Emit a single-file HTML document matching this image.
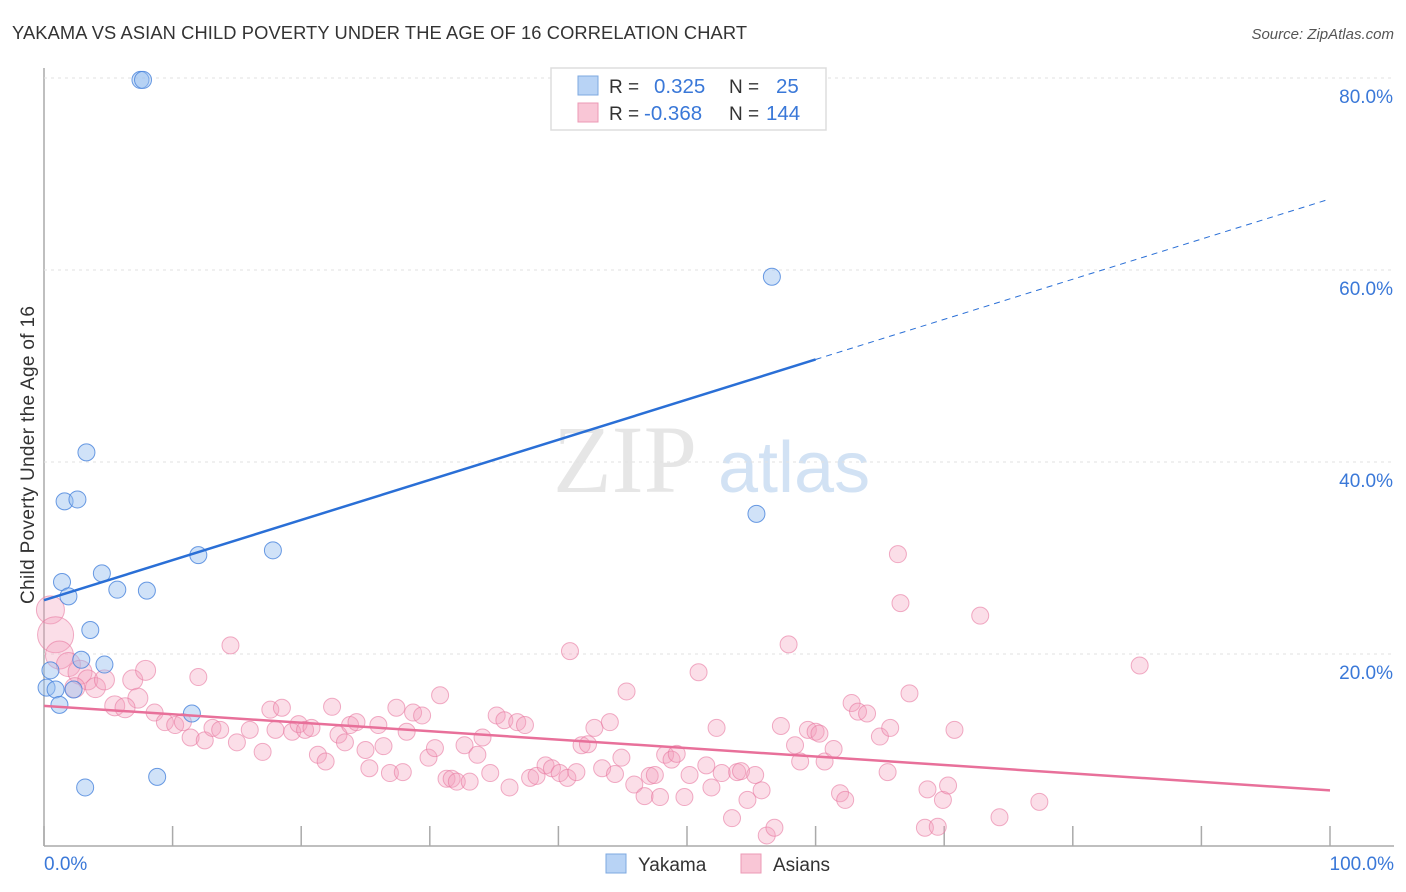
<!DOCTYPE html>
<html><head><meta charset="utf-8"><style>
body{margin:0;background:#fff;width:1406px;height:892px;overflow:hidden;font-family:"Liberation Sans",sans-serif}
svg{position:absolute;left:0;top:0}
</style></head><body>
<svg id="chart" width="1406" height="892">
<text x="12" y="39" font-size="18.3" fill="#333" textLength="735">YAKAMA VS ASIAN CHILD POVERTY UNDER THE AGE OF 16 CORRELATION CHART</text>
<text x="1394" y="39" font-size="15" fill="#555" font-style="italic" text-anchor="end">Source: ZipAtlas.com</text>
<text transform="translate(34,455) rotate(-90)" font-size="19" fill="#333" text-anchor="middle" textLength="298">Child Poverty Under the Age of 16</text>
<g opacity="0.45">
<text x="553" y="492" font-family="Liberation Serif,serif" font-size="96" fill="#c8c8c8">ZIP</text>
<text x="718" y="492" font-size="72" fill="#9cc0e8">atlas</text>
</g>
<g id="grid"></g><g id="marks"></g><g id="lines"></g>
<g>
<rect x="551" y="68" width="275" height="62" fill="#fff" stroke="#ddd" stroke-width="1.5"/>
<rect x="578" y="76" width="20" height="19" fill="#b8d3f5" stroke="#7ea8e0"/>
<rect x="578" y="103" width="20" height="19" fill="#f9c6d6" stroke="#ec9ab5"/>
<text x="609" y="93" font-size="19" fill="#333">R =</text>
<text x="654" y="93" font-size="20.5" fill="#3a78d8">0.325</text>
<text x="729" y="93" font-size="19" fill="#333">N =</text>
<text x="776" y="93" font-size="20.5" fill="#3a78d8">25</text>
<text x="609" y="120" font-size="19" fill="#333">R =</text>
<text x="644" y="120" font-size="20.5" fill="#3a78d8">-0.368</text>
<text x="729" y="120" font-size="19" fill="#333">N =</text>
<text x="766" y="120" font-size="20.5" fill="#3a78d8">144</text>
</g>
<g>
<rect x="606" y="854" width="20" height="19" fill="#b8d3f5" stroke="#7ea8e0"/>
<text x="638" y="871" font-size="19" fill="#333">Yakama</text>
<rect x="741" y="854" width="20" height="19" fill="#f9c6d6" stroke="#ec9ab5"/>
<text x="773" y="871" font-size="19" fill="#333">Asians</text>
</g>
</svg>
<script>
const yTicks=[20,40,60,80];
const yTickLabels=["20.0%","40.0%","60.0%","80.0%"];
const xTicks=[0,10,20,30,40,50,60,70,80,90,100];
const xEndLabels=["0.0%","100.0%"];
const blueX=[7.5,7.7,56.6,3.3,1.6,2.6,55.4,17.8,12.0,1.4,4.5,5.7,8.0,1.9,3.6,2.9,4.7,0.5,0.2,0.9,2.3,1.2,11.5,8.8,3.2];
const blueY=[79.8,79.8,59.3,41.0,35.9,36.1,34.6,30.8,30.3,27.5,28.4,26.7,26.6,26.0,22.5,19.4,18.9,18.3,16.5,16.3,16.3,14.7,13.8,7.2,6.1];
const pinkX=[0.5,0.9,1.2,1.9,2.8,3.4,4.0,4.7,2.4,6.9,7.9,7.3,5.5,6.3,8.6,9.4,10.2,10.8,11.4,12.5,13.1,13.7,14.5,12.0,15.0,16.0,17.0,17.6,18.0,18.5,19.3,19.8,20.3,20.8,21.3,21.9,22.4,22.9,23.4,23.8,24.3,25.0,25.3,26.0,26.4,26.9,27.4,27.9,28.2,28.7,29.4,29.9,30.4,30.8,31.3,31.7,32.1,32.7,33.1,33.7,34.1,34.7,35.2,35.8,36.2,36.8,37.4,37.8,38.3,39.0,39.5,40.1,40.7,40.9,41.4,41.8,42.3,42.8,43.4,44.0,44.4,44.9,45.3,45.9,46.7,47.1,47.5,47.9,48.3,48.8,49.2,49.8,50.2,50.9,51.5,51.9,52.3,52.7,53.5,53.9,54.2,54.7,55.3,55.8,56.2,56.8,57.3,57.9,58.4,58.8,59.4,60.0,60.3,60.7,61.4,61.9,62.3,62.8,63.3,64.0,65.0,65.6,65.8,66.4,66.6,67.3,68.7,68.5,69.5,69.9,70.3,70.8,72.8,74.3,77.4,85.2];
const pinkY=[24.6,22.0,19.9,18.9,18.1,17.3,16.5,17.3,16.5,17.3,18.3,15.4,14.6,14.4,13.9,12.9,12.6,12.9,11.3,11.0,12.3,12.1,20.9,17.6,10.8,12.1,9.8,14.2,12.1,14.4,11.9,12.7,12.1,12.3,9.5,8.8,14.5,11.6,10.8,12.6,12.9,10.0,8.1,12.6,10.4,7.6,14.4,7.7,11.9,13.9,13.6,9.2,10.2,15.7,7.0,7.0,6.7,10.5,6.7,9.5,11.3,7.6,13.6,13.1,6.1,12.9,12.6,7.1,7.3,8.4,8.1,7.6,7.1,20.3,7.7,10.5,10.6,12.3,8.1,12.9,7.5,9.2,16.1,6.4,5.2,7.3,7.4,5.1,9.5,9.0,9.6,5.1,7.4,18.1,8.4,6.1,12.3,7.6,2.9,7.7,7.8,4.8,7.4,5.8,1.1,1.9,12.5,21.0,10.5,8.8,12.1,11.9,11.7,8.8,10.1,5.5,4.8,14.9,14.0,13.8,11.4,7.7,12.3,30.4,25.3,15.9,5.9,1.9,2.0,4.8,6.3,12.1,24.0,3.0,4.6,18.8];
const pinkBig=[14,18,14,12,12,10,10,10,10,10,10,10,10,10];
const blueFit=[25.6,67.4];
const pinkFit=[14.6,5.8];
const blueSolidEnd=60;

const NS="http://www.w3.org/2000/svg";
const xS=v=>44+v*12.86;
const yS=v=>846-v*9.6;
function mk(t,a,p){const e=document.createElementNS(NS,t);for(const k in a)e.setAttribute(k,a[k]);p.appendChild(e);return e;}
const grid=document.getElementById('grid'),marks=document.getElementById('marks'),lines=document.getElementById('lines');
let ax=mk('line',{x1:44,y1:68,x2:44,y2:846,stroke:'#aaa','stroke-width':1.5},grid);


let bx=mk('line',{x1:44,y1:846,x2:1394,y2:846,stroke:'#aaa','stroke-width':1.5},grid);


yTicks.forEach((v,i)=>{
 let g=mk('line',{x1:44,y1:yS(v),x2:1394,y2:yS(v),stroke:'#e2e2e2','stroke-dasharray':'3,4','stroke-width':1},grid);
 
 
 let t=mk('text',{x:1393,y:yS(v)+25,'font-size':19,fill:'#3a78d8','text-anchor':'end'},grid);
 t.textContent=yTickLabels[i];
 
 
});
xTicks.forEach(v=>{
 let l=mk('line',{x1:xS(v),y1:826,x2:xS(v),y2:846,stroke:'#aaa','stroke-width':1.5},grid);
 
 
});
let t0=mk('text',{x:44,y:870,'font-size':19,fill:'#3a78d8'},grid);t0.textContent=xEndLabels[0];


let t1=mk('text',{x:1394,y:870,'font-size':19,fill:'#3a78d8','text-anchor':'end'},grid);t1.textContent=xEndLabels[1];


pinkX.forEach((x,i)=>{
 let c=mk('circle',{cx:xS(x),cy:yS(pinkY[i]),r:pinkBig[i]||8.5,fill:'rgba(244,160,188,0.35)',stroke:'rgba(232,120,160,0.6)','stroke-width':1},marks);
 
 
});
blueX.forEach((x,i)=>{
 let c=mk('circle',{cx:xS(x),cy:yS(blueY[i]),r:8.5,fill:'rgba(150,190,240,0.45)',stroke:'rgba(70,130,220,0.8)','stroke-width':1},marks);
 
 
});
const bAt=v=>blueFit[0]+(blueFit[1]-blueFit[0])*v/100;
let bl=mk('line',{x1:xS(0),y1:yS(bAt(0)),x2:xS(blueSolidEnd),y2:yS(bAt(blueSolidEnd)),stroke:'#2a6fd6','stroke-width':2.5},lines);


let bd=mk('line',{x1:xS(blueSolidEnd),y1:yS(bAt(blueSolidEnd)),x2:xS(100),y2:yS(bAt(100)),stroke:'#2a6fd6','stroke-width':1,'stroke-dasharray':'6,5'},lines);


let pl=mk('line',{x1:xS(0),y1:yS(pinkFit[0]),x2:xS(100),y2:yS(pinkFit[1]),stroke:'#e8709a','stroke-width':2.5},lines);


</script>
</body></html>
